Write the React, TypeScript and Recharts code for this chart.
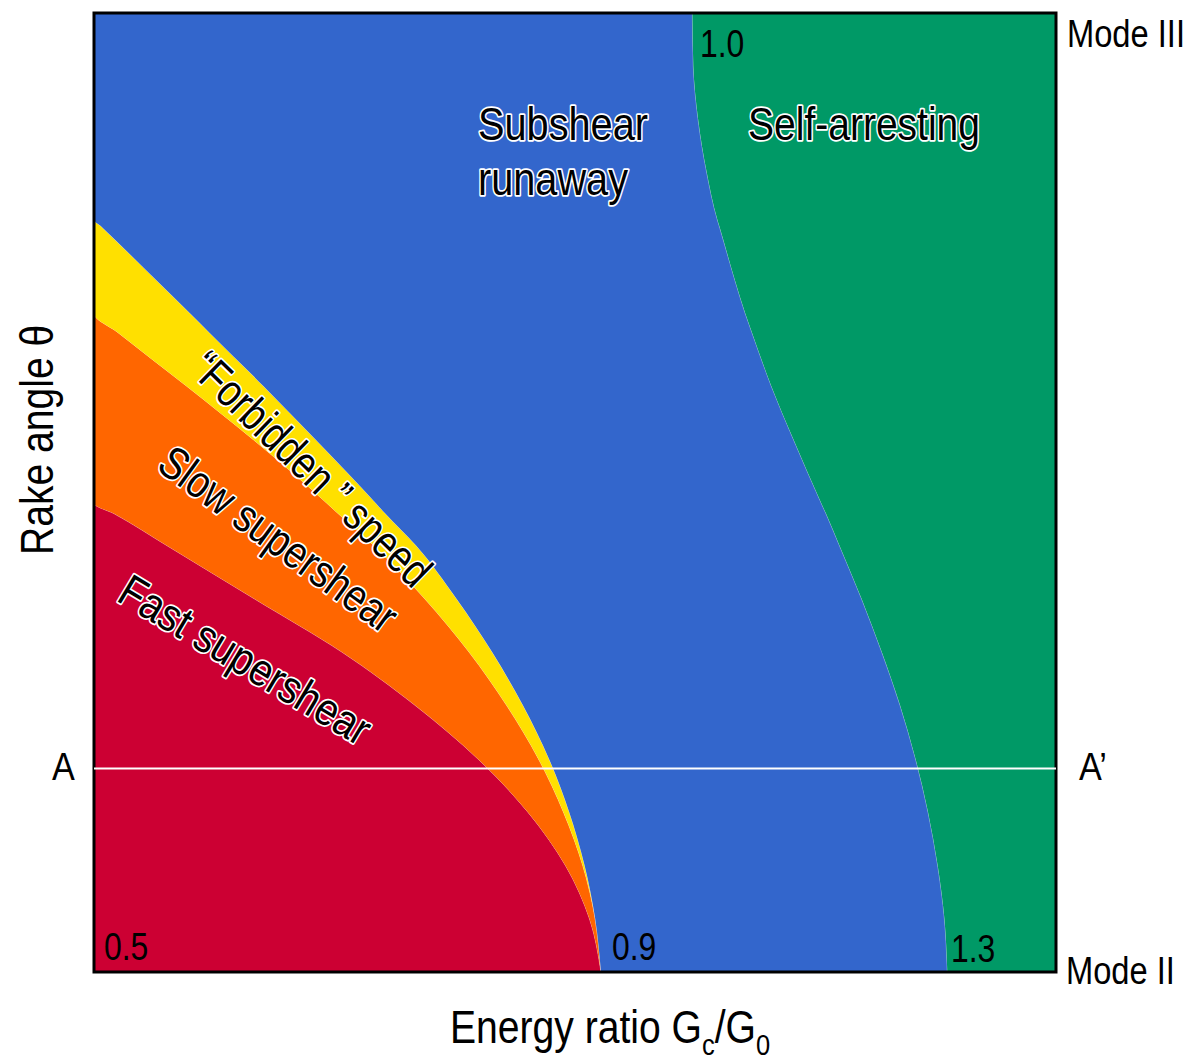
import { ComposedChart, Area, XAxis, YAxis, ReferenceLine, ReferenceArea } from 'recharts'

// rake angle samples (deg), 0 = Mode II at the bottom, 90 = Mode III at the top
const theta = [0, 5, 10, 15, 20, 25, 30, 35, 40, 43, 44, 50, 55, 60, 61.8, 65, 70, 70.6, 75, 80, 85, 90]

// right edge of each regime along the energy axis (0..100, schematic)
const fastEdge = [52.7, 51.5, 49.0, 45.1, 39.9, 33.4, 25.8, 16.7, 7.6, 2.1, 0, 0, 0, 0, 0, 0, 0, 0, 0, 0, 0, 0]
const slowEdge = [52.7, 52.1, 50.8, 48.8, 46.2, 42.9, 39.0, 34.4, 29.1, 25.4, 24.2, 16.5, 9.6, 2.5, 0, 0, 0, 0, 0, 0, 0, 0]
const forbiddenEdge = [52.7, 52.1, 51.0, 49.4, 47.3, 44.6, 41.4, 37.7, 33.5, 30.3, 29.3, 23.0, 17.6, 12.0, 10.0, 6.4, 0.7, 0, 0, 0, 0, 0]
const runawayEdge = [88.7, 88.4, 87.7, 86.7, 85.4, 83.8, 81.9, 79.8, 77.5, 76.1, 75.6, 72.7, 70.4, 68.4, 67.7, 66.6, 65.0, 64.8, 63.7, 62.8, 62.3, 62.2]

const cutTheta = 19.1 // A - A'

const rows = theta.map((t, i) => ({
  theta: t,
  fast: fastEdge[i],
  slow: slowEdge[i] - fastEdge[i],
  forbidden: forbiddenEdge[i] - slowEdge[i],
  subshear: runawayEdge[i] - forbiddenEdge[i],
  arrest: 100 - runawayEdge[i],
}))

const FONT = "'Liberation Sans Narrow', 'Arial Narrow', 'Liberation Sans', Arial, sans-serif"

function Outlined({ x, y, size = 46, len, rotate, children }: any) {
  return (
    <text
      x={x}
      y={y}
      fontSize={size}
      fontFamily={FONT}
      fill="#000"
      stroke="#fff"
      strokeWidth={3.5}
      paintOrder="stroke"
      strokeLinejoin="round"
      textLength={len}
      lengthAdjust="spacingAndGlyphs"
      transform={rotate ? `rotate(${rotate} ${x} ${y})` : undefined}
    >
      {children}
    </text>
  )
}

// condensed look without a narrow font: squeeze horizontally
function Plain({ x, y, size = 38, sx = 0.84, children }: any) {
  return (
    <g transform={`translate(${x} ${y}) scale(${sx} 1)`}>
      <text x={0} y={0} fontSize={size} fontFamily={FONT} fill="#000">
        {children}
      </text>
    </g>
  )
}

export default function App() {
  return (
    <div style={{ position: 'relative', width: 1191, height: 1060 }}>
      <style>{`body{margin:0}`}</style>
      <ComposedChart
        layout="vertical"
        width={1191}
        height={1060}
        data={rows}
        margin={{ top: 13, right: 135, bottom: 88, left: 94 }}
      >
        <XAxis type="number" domain={[0, 100]} hide />
        <YAxis type="number" dataKey="theta" domain={[0, 90]} reversed hide />
        <Area type="monotone" dataKey="fast" stackId="s" fill="#CC0033" fillOpacity={1} stroke="#ffffff" strokeOpacity={0.35} strokeWidth={1} isAnimationActive={false} />
        <Area type="monotone" dataKey="slow" stackId="s" fill="#FF6600" fillOpacity={1} stroke="#ffffff" strokeOpacity={0.35} strokeWidth={1} isAnimationActive={false} />
        <Area type="monotone" dataKey="forbidden" stackId="s" fill="#FFE000" fillOpacity={1} stroke="#ffffff" strokeOpacity={0.35} strokeWidth={1} isAnimationActive={false} />
        <Area type="monotone" dataKey="subshear" stackId="s" fill="#3366CC" fillOpacity={1} stroke="#ffffff" strokeOpacity={0.35} strokeWidth={1} isAnimationActive={false} />
        <Area type="monotone" dataKey="arrest" stackId="s" fill="#009966" fillOpacity={1} stroke="none" isAnimationActive={false} />
        <ReferenceLine y={cutTheta} stroke="#ffffff" strokeWidth={2} />
        <ReferenceArea x1={0} x2={100} y1={0} y2={90} fill="none" stroke="#000" strokeWidth={3} />
      </ComposedChart>

      <svg width={1191} height={1060} style={{ position: 'absolute', left: 0, top: 0, pointerEvents: 'none' }}>
        <Outlined x={478} y={140} len={170}>Subshear</Outlined>
        <Outlined x={478} y={195} len={150}>runaway</Outlined>
        <Outlined x={748} y={140} len={232}>Self-arresting</Outlined>
        <Outlined x={188} y={371} len={314} rotate={44.2}>{'\u201CForbidden \u201D speed'}</Outlined>
        <Outlined x={155} y={469} len={282} rotate={36}>Slow supershear</Outlined>
        <Outlined x={115} y={600} len={285} rotate={31}>Fast supershear</Outlined>

        <Plain x={700} y={57}>1.0</Plain>
        <Plain x={104} y={960}>0.5</Plain>
        <Plain x={612} y={960}>0.9</Plain>
        <Plain x={951} y={962}>1.3</Plain>
        <Plain x={1067} y={47} sx={0.86}>Mode III</Plain>
        <Plain x={1066} y={984} sx={0.86}>Mode II</Plain>
        <Plain x={52} y={780} sx={0.9}>A</Plain>
        <Plain x={1079} y={780} sx={0.9}>{'A\u2019'}</Plain>

        <g transform="translate(53 555) rotate(-90) scale(0.85 1)">
          <text x={0} y={0} fontSize={46} fontFamily={FONT} fill="#000">
            {'Rake angle  \u03B8'}
          </text>
        </g>
        <g transform="translate(450 1043) scale(0.85 1)">
          <text x={0} y={0} fontSize={46} fontFamily={FONT} fill="#000">
            Energy ratio G
            <tspan fontSize={30} dy={12}>c</tspan>
            <tspan fontSize={46} dy={-12}>/G</tspan>
            <tspan fontSize={30} dy={12}>0</tspan>
          </text>
        </g>
      </svg>
    </div>
  )
}
